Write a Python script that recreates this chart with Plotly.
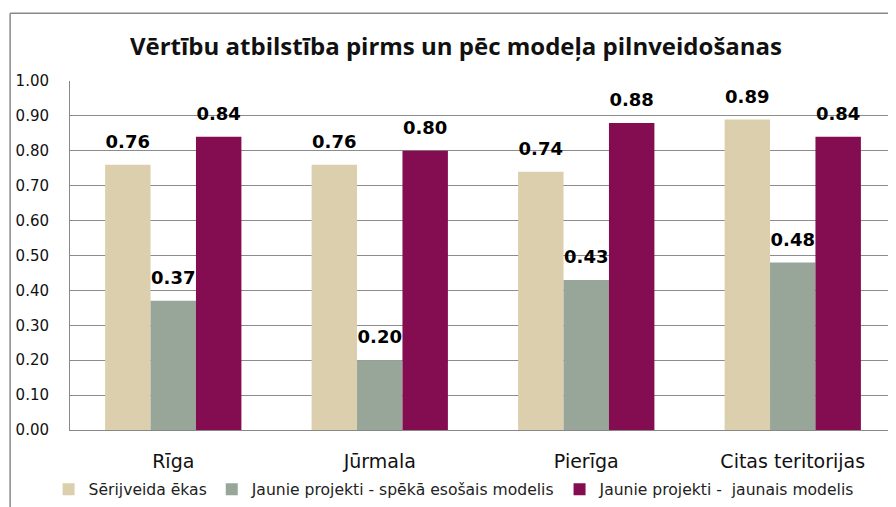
import plotly.graph_objects as go

categories = ["Rīga", "Jūrmala", "Pierīga", "Citas teritorijas"]
series_names = ["Sērijveida ēkas", "Jaunie projekti - spēkā esošais modelis", "Jaunie projekti -  jaunais modelis"]
serija = [0.76, 0.76, 0.74, 0.89]
speka = [0.37, 0.20, 0.43, 0.48]
jaunais = [0.84, 0.80, 0.88, 0.84]
colors = ["#DCCFAD", "#97A698", "#840C51"]
title = "Vērtību atbilstība pirms un pēc modeļa pilnveidošanas"
ytickvals = [0, 0.1, 0.2, 0.3, 0.4, 0.5, 0.6, 0.7, 0.8, 0.9, 1.0]

FONT = "DejaVu Sans"
fig = go.Figure()
all_vals = [serija, speka, jaunais]
for name, vals, col in zip(series_names, all_vals, colors):
    fig.add_trace(go.Bar(
        x=categories, y=vals, name=name, marker=dict(color=col, line=dict(width=0)),
        hoverinfo="skip",
    ))
# data labels, placed over the grouped bars
for name, vals in zip(series_names, all_vals):
    fig.add_trace(go.Scatter(
        x=categories, y=vals, mode="markers+text", showlegend=False,
        text=[f"{v:.2f}" for v in vals], textposition="top center",
        marker=dict(size=18, color="rgba(0,0,0,0)"), cliponaxis=False,
        textfont=dict(family=FONT, size=18, color="black", weight="bold"),
        hoverinfo="skip",
    ))

fig.update_layout(
    width=896, height=507,
    margin=dict(l=60, r=8, t=73, b=83),
    paper_bgcolor="white", plot_bgcolor="white",
    barmode="group", bargap=0.34, bargroupgap=0,
    scattermode="group", scattergap=0.34,
    font=dict(family=FONT, color="black"),
    title=dict(text="<b>" + title + "</b>", x=0.5, xanchor="center", y=0.923, yanchor="middle",
               font=dict(family="Open Sans", size=24, color="#111")),
    showlegend=True,
    legend=dict(orientation="h", x=0.465, xanchor="center", y=-0.171, yanchor="middle",
                font=dict(family=FONT, size=15.6, color="#222"), itemwidth=30,
                tracegroupgap=0, bgcolor="rgba(0,0,0,0)"),
    xaxis=dict(showgrid=False, showline=True, linecolor="#888", linewidth=1,
               tickfont=dict(family=FONT, size=19, color="#111"), ticks="", ticklabelstandoff=14),
    yaxis=dict(range=[0, 1.0], tickvals=ytickvals, tickformat=".2f", showgrid=True,
               gridcolor="#8C8C8C", gridwidth=1, showline=True, linecolor="#888", linewidth=1,
               zeroline=False, ticks="", ticklabelstandoff=17,
               tickfont=dict(family=FONT, size=15, color="#111")),
)
# outer chart border (left and top edges visible in reference crop)
fig.add_shape(type="line", xref="paper", yref="paper", x0=-0.0725, x1=-0.0725, y0=-0.3, y1=1.194,
              line=dict(color="#888", width=1.5))
fig.add_shape(type="line", xref="paper", yref="paper", x0=-0.0725, x1=1.1, y0=1.194, y1=1.194,
              line=dict(color="#888", width=1.5))
fig.write_html("out.html")
